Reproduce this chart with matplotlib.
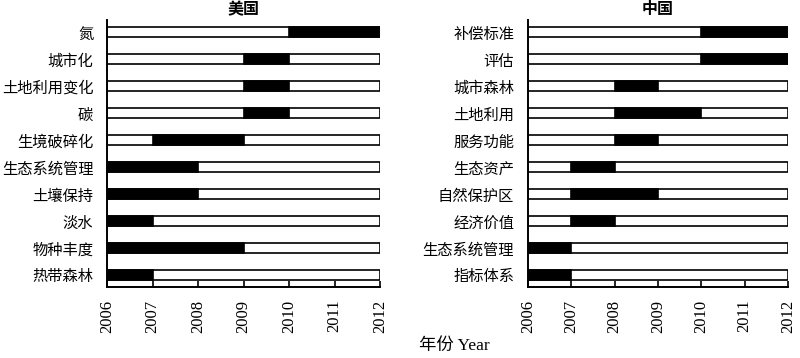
import matplotlib.pyplot as plt

plt.rcParams['font.family'] = ['Noto Sans CJK SC', 'DejaVu Sans']

year_start = 2006
year_end = 2012
years = [2006, 2007, 2008, 2009, 2010, 2011, 2012]

# 美国: 主题, 热点开始年, 热点结束年
us_topics = ["氮", "城市化", "土地利用变化", "碳", "生境破碎化",
             "生态系统管理", "土壤保持", "淡水", "物种丰度", "热带森林"]
us_start = [2010, 2009, 2009, 2009, 2007, 2006, 2006, 2006, 2006, 2006]
us_end = [2012, 2010, 2010, 2010, 2009, 2008, 2008, 2007, 2009, 2007]

# 中国
cn_topics = ["补偿标准", "评估", "城市森林", "土地利用", "服务功能",
             "生态资产", "自然保护区", "经济价值", "生态系统管理", "指标体系"]
cn_start = [2010, 2010, 2008, 2008, 2008, 2007, 2007, 2007, 2006, 2006]
cn_end = [2012, 2012, 2009, 2010, 2009, 2008, 2009, 2008, 2007, 2007]

fig = plt.figure(figsize=(8, 3.58), dpi=100)
ax1 = fig.add_axes([0.134, 0.198, 0.341, 0.746])
ax2 = fig.add_axes([0.66, 0.198, 0.325, 0.746])


def draw(ax, topics, start, end, title):
    pos = list(range(len(topics)))
    ax.barh(pos, [year_end - year_start] * len(pos), left=year_start, height=0.38,
            color="white", edgecolor="black", linewidth=1.2, zorder=2)
    ax.barh(pos, [e - s for s, e in zip(start, end)], left=start, height=0.38,
            color="black", edgecolor="black", linewidth=1.2, zorder=3)
    ax.set_xlim(year_start, year_end)
    ax.set_ylim(len(pos) - 0.55, -0.45)
    ax.set_yticks(pos)
    ax.set_yticklabels(topics, fontsize=11, fontweight="medium")
    ax.tick_params(axis="y", length=0, pad=10)
    ax.set_xticks(years)
    ax.set_xticklabels([str(y) for y in years], rotation=90, fontsize=12,
                       family="Liberation Serif")
    ax.tick_params(axis="x", direction="in", length=4, width=1.2, pad=9)
    for s in ["top", "right"]:
        ax.spines[s].set_visible(False)
    for s in ["left", "bottom"]:
        ax.spines[s].set_linewidth(1.4)
    ax.spines["bottom"].set_zorder(4)
    ax.set_title(title, fontsize=11.5, pad=4, fontweight="bold")


draw(ax1, us_topics, us_start, us_end, "美国")
draw(ax2, cn_topics, cn_start, cn_end, "中国")

fig.text(0.568, 0.012, "年份 Year", fontsize=12.5, ha="center", va="bottom",
         family=["Liberation Serif", "Noto Sans CJK SC"])

fig.savefig("out.png", dpi=100)
